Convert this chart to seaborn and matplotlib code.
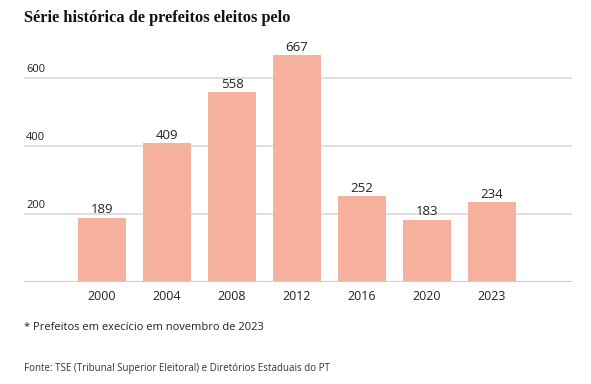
import matplotlib
matplotlib.use("Agg")
import matplotlib.pyplot as plt
import seaborn as sns
import pandas as pd

anos = ["2000", "2004", "2008", "2012", "2016", "2020", "2023"]
prefeitos = [189, 409, 558, 667, 252, 183, 234]
yticks = [200, 400, 600]

titulo = "Série histórica de prefeitos eleitos pelo"
nota = "* Prefeitos em execício em novembro de 2023"
fonte = "Fonte: TSE (Tribunal Superior Eleitoral) e Diretórios Estaduais do PT"

df = pd.DataFrame({"ano": anos, "prefeitos": prefeitos})

sns.set_style("white")
plt.rcParams["font.family"] = ["Open Sans", "DejaVu Sans"]

fig = plt.figure(figsize=(5.91, 3.84), dpi=100)
ax = fig.add_axes([24 / 591, 1 - 282 / 384, 548 / 591, 235 / 384])

sns.barplot(data=df, x="ano", y="prefeitos", color="#F5B09E", saturation=1,
            width=0.75, linewidth=0, ax=ax, zorder=3)

ax.set_xlim(-1.2, 7.23)
ax.set_ylim(0, 691)
ax.set_yticks(yticks)
ax.set_yticklabels([])
for v in yticks:
    ax.axhline(v, color="#DADADA", lw=1.2, zorder=1)
    ax.text(0.004, v + 8, str(v), transform=ax.get_yaxis_transform(),
            fontsize=8, color="#222222", va="bottom", ha="left")
ax.axhline(0, color="#CFCFCF", lw=1.6, zorder=4)

for i, v in enumerate(prefeitos):
    ax.text(i, v + 4, str(v), ha="center", va="bottom", fontsize=9.5, color="#222222")

ax.tick_params(axis="x", length=0, labelsize=9, colors="#222222", pad=6)
ax.tick_params(axis="y", length=0)
ax.set_xlabel("")
ax.set_ylabel("")
sns.despine(ax=ax, left=True, bottom=True, top=True, right=True)

fig.text(24 / 591, 1 - 18 / 384, titulo, family=["Liberation Serif", "DejaVu Serif"],
         fontweight="bold", fontsize=11.8, color="#111111", va="center", ha="left")
fig.text(24 / 591, 1 - 328 / 384, nota, fontsize=8, color="#222222", va="center", ha="left")
fig.text(24 / 591, 1 - 368 / 384, fonte, fontsize=7, color="#333333", va="center", ha="left")

fig.savefig("out.png", dpi=100)
